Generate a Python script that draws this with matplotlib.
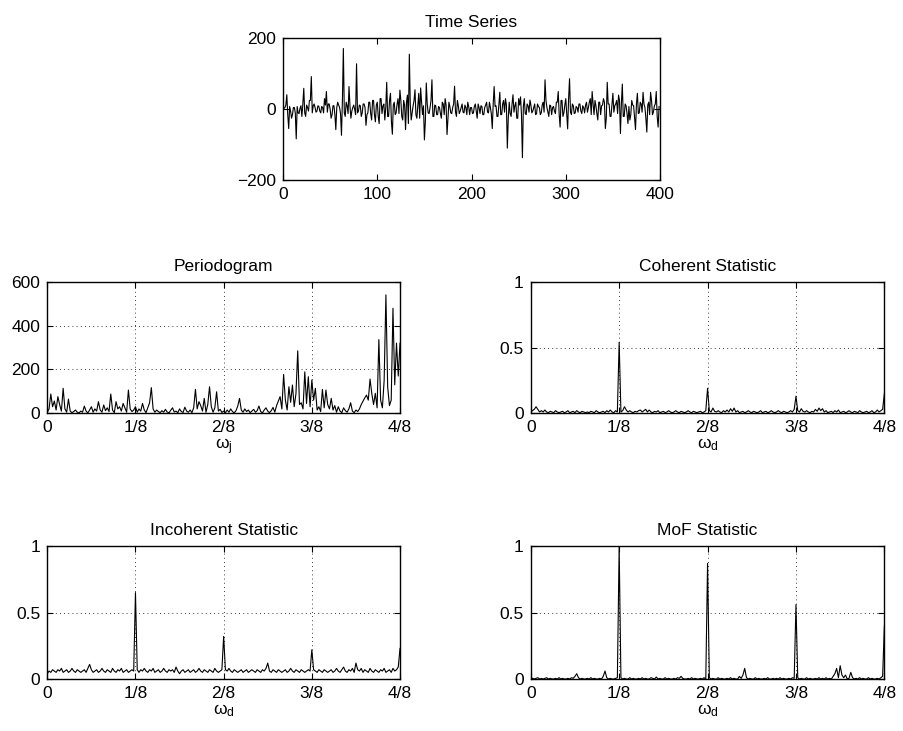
import numpy as np
import matplotlib

matplotlib.use("Agg")
import matplotlib.pyplot as plt

plt.rcParams["font.family"] = ["Liberation Sans", "DejaVu Sans"]
plt.rcParams["mathtext.fontset"] = "custom"
plt.rcParams["mathtext.rm"] = "Liberation Sans"
plt.rcParams["mathtext.it"] = "Liberation Sans:italic"

FS = 12.5

# time series, even samples (t = 0, 2, ..., 398)
series_even = [
    0, 5, 41, -54, -5, -15, 5, -83, -10, 3, -20, 59, -20, 5, 25, 92, 10, 5, -5, 8,
    -10, 5, 30, 50, 15, 0, -15, 10, -57, 20, 5, -73, 171, -20, 10, 64, -25, 5, 0, 128,
    -5, 10, -10, 15, -45, -10, 20, -30, 25, -35, 20, -40, 30, 10, -30, 76, -20, 45, -70, 20,
    -10, 30, 54, -20, 25, -57, 40, 155, -30, 10, 55, -25, 45, 60, -15, -86, 74, -10, 5, 83,
    -20, 10, -15, 5, -25, 15, 30, -71, 20, -10, 5, 65, -20, 10, -5, 15, -10, 5, 20, -15,
    5, -10, 15, -25, 5, 10, -15, 5, 20, -10, 5, -54, 64, 10, -20, 48, -15, 25, 30, -109,
    20, -20, 41, 10, -25, 30, 35, -136, 30, -15, 10, 26, -10, 5, -15, 15, 5, -10, 20, 83,
    5, -20, 10, 5, -5, 20, 50, -50, 25, -10, 30, -55, 86, -15, 10, -10, 5, 15, -5, 10,
    -10, 20, 5, 30, 50, -15, 10, -30, 20, 10, 30, -54, 76, 15, -20, 45, 10, 25, 40, -68,
    71, -20, 10, -40, -30, 25, 10, -57, 45, -10, 15, 48, 5, -64, 20, 48, -15, 10, 50, -50,
]
# odd samples (t = 1, 3, ..., 399)
series_odd = [
    3, 12, -15, 8, -25, 5, -10, 8, -12, 10, 15, -10, 12, -5, 25, -10, 15, -8, 10, -5,
    8, -10, 12, -8, 15, -25, 10, -15, 5, 12, -12, 25, -10, 20, -12, 10, -5, 12, -15, -10,
    12, -20, 15, 5, -15, 20, -12, 25, -15, 12, -20, 30, -12, 15, 5, -20, 25, -35, 12, -15,
    15, -12, 25, -30, 12, 20, -40, 15, -10, 25, -15, 12, -25, 20, 10, -35, 15, -12, 25, -20,
    12, -15, 8, -12, 20, -15, 12, -25, 8, -12, 15, -8, 25, -12, 5, -8, 12, -15, 8, 5,
    -12, 8, -5, 15, -12, 8, -15, 12, -8, 20, -12, 15, 8, -20, 12, -15, 15, -8, 12, -25,
    -12, 15, -8, 20, -25, 12, -15, 8, -12, 15, -8, 12, -5, 15, -12, 8, -15, 12, -8, 25,
    -8, 12, -15, 8, -12, 20, -15, 25, -20, 12, -15, 30, -8, 15, -12, 8, -8, 15, -12, 5,
    12, -8, 20, -15, 15, 25, -12, 20, -15, 12, 20, -25, 15, -20, 12, -8, 15, -12, 25, 15,
    -20, 15, -12, 8, -15, 12, -25, 15, -12, 20, -8, 15, -25, 12, -15, 25, -8, 15, -20, 8,
]

# periodogram at omega_j = j/400, j = 0..200
periodogram = [
    5, 20, 88, 30, 56, 15, 76, 40, 10, 114, 20, 5, 65, 10, 3, 8, 15, 5, 2, 10,
    5, 33, 10, 2, 15, 30, 5, 20, 10, 53, 15, 5, 38, 12, 25, 8, 88, 15, 3, 53,
    20, 30, 10, 45, 25, 5, 106, 20, 8, 15, 30, 5, 20, 10, 45, 15, 3, 25, 48, 117,
    20, 5, 15, 8, 3, 12, 5, 18, 6, 2, 14, 25, 6, 10, 3, 20, 8, 4, 28, 10,
    5, 15, 3, 25, 109, 20, 53, 35, 10, 68, 5, 40, 121, 30, 5, 25, 98, 10, 18, 4,
    10, 3, 15, 5, 20, 8, 2, 12, 33, 68, 15, 5, 20, 8, 15, 3, 10, 18, 5, 12,
    33, 8, 2, 15, 25, 10, 3, 12, 27, 5, 35, 55, 76, 20, 177, 60, 15, 121, 50, 129,
    30, 90, 285, 40, 48, 20, 189, 45, 167, 30, 152, 60, 114, 15, 30, 8, 109, 25, 106, 40,
    20, 68, 15, 35, 5, 30, 10, 3, 25, 12, 5, 20, 48, 10, 3, 15, 8, 20, 40, 55,
    70, 83, 60, 156, 90, 40, 91, 25, 336, 60, 25, 150, 540, 120, 35, 60, 479, 130, 320, 170,
    320,
]

coherent = [
    0.01, 0.02, 0.03, 0.05, 0.03, 0.01, 0.02, 0.01, 0.025, 0.01, 0.005, 0.015, 0.01, 0.005, 0.02, 0.01, 0.005, 0.01, 0.015, 0.005,
    0.01, 0.02, 0.005, 0.01, 0.015, 0.005, 0.02, 0.01, 0.005, 0.015, 0.01, 0.005, 0.01, 0.005, 0.015, 0.01, 0.005, 0.02, 0.01, 0.005,
    0.01, 0.015, 0.005, 0.02, 0.01, 0.025, 0.01, 0.005, 0.02, 0.01, 0.54, 0.01, 0.02, 0.05, 0.025, 0.01, 0.02, 0.01, 0.005, 0.015,
    0.01, 0.02, 0.025, 0.01, 0.02, 0.03, 0.01, 0.025, 0.01, 0.005, 0.015, 0.01, 0.02, 0.005, 0.01, 0.015, 0.005, 0.01, 0.02, 0.01,
    0.005, 0.01, 0.02, 0.01, 0.005, 0.015, 0.01, 0.005, 0.01, 0.02, 0.01, 0.005, 0.015, 0.01, 0.005, 0.01, 0.015, 0.005, 0.01, 0.02,
    0.19, 0.02, 0.01, 0.04, 0.015, 0.01, 0.02, 0.01, 0.005, 0.02, 0.01, 0.025, 0.01, 0.035, 0.015, 0.04, 0.01, 0.02, 0.005, 0.01,
    0.015, 0.005, 0.01, 0.02, 0.01, 0.005, 0.015, 0.01, 0.005, 0.01, 0.02, 0.005, 0.01, 0.015, 0.005, 0.01, 0.02, 0.01, 0.005, 0.01,
    0.02, 0.01, 0.005, 0.015, 0.01, 0.005, 0.01, 0.02, 0.01, 0.03, 0.13, 0.02, 0.01, 0.035, 0.015, 0.01, 0.02, 0.01, 0.005, 0.015,
    0.01, 0.03, 0.015, 0.04, 0.02, 0.035, 0.01, 0.02, 0.005, 0.01, 0.015, 0.005, 0.02, 0.01, 0.025, 0.005, 0.01, 0.015, 0.005, 0.01,
    0.02, 0.01, 0.005, 0.015, 0.01, 0.005, 0.02, 0.01, 0.005, 0.01, 0.015, 0.005, 0.01, 0.02, 0.005, 0.01, 0.025, 0.01, 0.02, 0.03,
    0.15,
]

incoherent = [
    0.04, 0.06, 0.05, 0.07, 0.06, 0.05, 0.07, 0.06, 0.08, 0.05, 0.06, 0.07, 0.05, 0.06, 0.08, 0.06, 0.05, 0.07, 0.06, 0.05,
    0.06, 0.07, 0.05, 0.08, 0.11, 0.07, 0.05, 0.06, 0.07, 0.05, 0.06, 0.08, 0.06, 0.05, 0.07, 0.06, 0.05, 0.08, 0.06, 0.05,
    0.07, 0.06, 0.08, 0.05, 0.06, 0.07, 0.05, 0.06, 0.07, 0.06, 0.65, 0.07, 0.05, 0.07, 0.06, 0.08, 0.06, 0.05, 0.07, 0.06,
    0.08, 0.05, 0.06, 0.07, 0.05, 0.06, 0.08, 0.06, 0.05, 0.07, 0.06, 0.07, 0.05, 0.09, 0.06, 0.04, 0.06, 0.07, 0.05, 0.06,
    0.07, 0.05, 0.06, 0.07, 0.05, 0.06, 0.08, 0.06, 0.05, 0.07, 0.06, 0.05, 0.07, 0.06, 0.05, 0.08, 0.06, 0.05, 0.06, 0.07,
    0.32, 0.07, 0.06, 0.08, 0.06, 0.05, 0.07, 0.06, 0.05, 0.06, 0.07, 0.05, 0.06, 0.07, 0.05, 0.06, 0.07, 0.06, 0.05, 0.07,
    0.06, 0.05, 0.07, 0.06, 0.08, 0.12, 0.06, 0.05, 0.07, 0.06, 0.05, 0.07, 0.06, 0.05, 0.06, 0.07, 0.05, 0.06, 0.08, 0.06,
    0.05, 0.07, 0.06, 0.05, 0.07, 0.06, 0.05, 0.06, 0.07, 0.06, 0.22, 0.07, 0.06, 0.05, 0.07, 0.06, 0.05, 0.07, 0.06, 0.05,
    0.06, 0.07, 0.05, 0.06, 0.08, 0.06, 0.05, 0.07, 0.09, 0.06, 0.05, 0.07, 0.06, 0.08, 0.05, 0.12, 0.07, 0.06, 0.08, 0.05,
    0.07, 0.06, 0.05, 0.08, 0.06, 0.05, 0.07, 0.06, 0.05, 0.07, 0.06, 0.08, 0.05, 0.06, 0.07, 0.05, 0.08, 0.06, 0.07, 0.09,
    0.23,
]

mof = [
    0.01, 0.005, 0.0, 0.005, 0.01, 0.0, 0.005, 0.0, 0.005, 0.01, 0.0, 0.005, 0.0, 0.0, 0.005, 0.0, 0.01, 0.0, 0.005, 0.0,
    0.0, 0.005, 0.0, 0.01, 0.005, 0.02, 0.04, 0.01, 0.0, 0.005, 0.0, 0.0, 0.005, 0.0, 0.01, 0.0, 0.005, 0.0, 0.0, 0.005,
    0.0, 0.02, 0.06, 0.01, 0.0, 0.005, 0.0, 0.0, 0.005, 0.01, 0.99, 0.01, 0.0, 0.005, 0.0, 0.0, 0.01, 0.0, 0.005, 0.0,
    0.0, 0.005, 0.0, 0.01, 0.0, 0.005, 0.0, 0.0, 0.01, 0.005, 0.0, 0.015, 0.0, 0.005, 0.0, 0.0, 0.01, 0.0, 0.005, 0.0,
    0.0, 0.005, 0.0, 0.01, 0.005, 0.02, 0.005, 0.0, 0.0, 0.005, 0.0, 0.01, 0.0, 0.005, 0.0, 0.0, 0.005, 0.0, 0.01, 0.0,
    0.87, 0.01, 0.0, 0.005, 0.0, 0.0, 0.01, 0.0, 0.005, 0.0, 0.0, 0.005, 0.0, 0.01, 0.0, 0.005, 0.0, 0.0, 0.02, 0.005,
    0.03, 0.08, 0.01, 0.0, 0.005, 0.0, 0.0, 0.01, 0.0, 0.005, 0.0, 0.0, 0.005, 0.0, 0.01, 0.0, 0.0, 0.005, 0.0, 0.005,
    0.0, 0.01, 0.0, 0.005, 0.0, 0.0, 0.005, 0.0, 0.01, 0.005, 0.56, 0.01, 0.0, 0.005, 0.0, 0.0, 0.01, 0.0, 0.005, 0.0,
    0.0, 0.005, 0.0, 0.01, 0.0, 0.005, 0.0, 0.01, 0.0, 0.005, 0.0, 0.02, 0.04, 0.08, 0.01, 0.1, 0.03, 0.01, 0.03, 0.0,
    0.005, 0.05, 0.01, 0.0, 0.005, 0.0, 0.01, 0.0, 0.005, 0.0, 0.0, 0.01, 0.0, 0.005, 0.0, 0.0, 0.005, 0.0, 0.01, 0.02,
    0.40,
]

freq_ticks = [0, 0.125, 0.25, 0.375, 0.5]
freq_labels = ["0", "1/8", "2/8", "3/8", "4/8"]


def style(ax):
    ax.tick_params(direction="in", top=True, right=True, length=4, width=0.8,
                   labelsize=FS, pad=5)
    for spine in ax.spines.values():
        spine.set_linewidth(1.0)


def freq_panel(ax, values, title, ylim, yticks, xlabel=None):
    freqs = np.arange(len(values)) / 400
    ax.plot(freqs, values, color="black", lw=0.8)
    ax.set_xlim(0, 0.5)
    ax.set_ylim(*ylim)
    ax.set_xticks(freq_ticks, freq_labels)
    ax.set_yticks(yticks)
    ax.grid(True, color="black", linestyle=(0, (1, 4)), linewidth=0.6)
    ax.set_title(title, fontsize=FS, pad=8)
    if xlabel:
        ax.set_xlabel(xlabel, fontsize=FS, labelpad=1)
    style(ax)


fig = plt.figure(figsize=(9.04, 7.31), dpi=100)

series = np.column_stack((series_even, series_odd)).ravel()
ax_ts = fig.add_axes([0.3131, 0.7531, 0.4170, 0.1947])
ax_ts.plot(np.arange(len(series)), series, color="black", lw=0.8)
ax_ts.set_xlim(0, 400)
ax_ts.set_ylim(-200, 200)
ax_ts.set_xticks([0, 100, 200, 300, 400])
ax_ts.set_yticks([-200, 0, 200])
ax_ts.set_title("Time Series", fontsize=FS, pad=8)
style(ax_ts)

ax_p = fig.add_axes([0.0523, 0.4346, 0.3902, 0.1800])
freq_panel(ax_p, periodogram, "Periodogram", (0, 600), [0, 200, 400, 600],
           r"ω$_{\mathrm{j}}$")

ax_c = fig.add_axes([0.5871, 0.4346, 0.3912, 0.1800])
freq_panel(ax_c, coherent, "Coherent Statistic", (0, 1), [0, 0.5, 1],
           r"ω$_{\mathrm{d}}$")

ax_i = fig.add_axes([0.0523, 0.0711, 0.3902, 0.1819])
freq_panel(ax_i, incoherent, "Incoherent Statistic", (0, 1), [0, 0.5, 1],
           r"ω$_{\mathrm{d}}$")

ax_m = fig.add_axes([0.5871, 0.0711, 0.3912, 0.1819])
freq_panel(ax_m, mof, "MoF Statistic", (0, 1), [0, 0.5, 1],
           r"ω$_{\mathrm{d}}$")

for ax in (ax_c, ax_i, ax_m):
    ax.set_yticklabels(["0", "0.5", "1"])

fig.savefig("out.png", dpi=100)
